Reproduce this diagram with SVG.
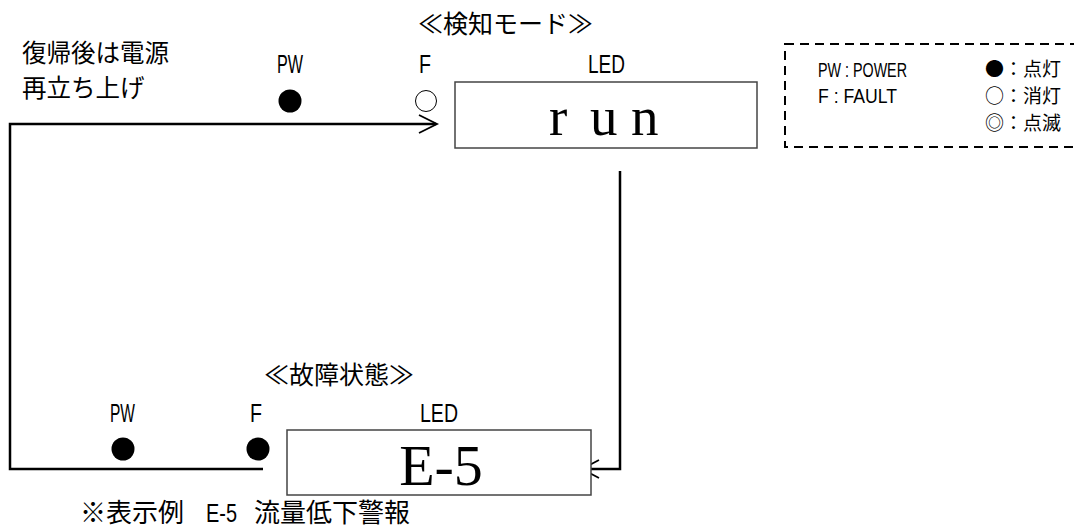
<svg xmlns="http://www.w3.org/2000/svg" width="1074" height="529" viewBox="0 0 1074 529">
<style>
.jp{font-family:"Noto Sans CJK JP","Noto Sans",sans-serif;fill:#000}
.lbl{font-family:"Liberation Sans",Arial,sans-serif;font-size:26px;fill:#000}
.leg{font-family:"Liberation Sans",Arial,sans-serif;font-size:20px;fill:#000}
.big{font-family:"Liberation Serif","Times New Roman",serif;fill:#000}
.box{fill:#fff;stroke:#444;stroke-width:1.5}
.con{fill:none;stroke:#000;stroke-width:2.5}
.head{fill:none;stroke:#000;stroke-width:1.8}
</style>
<rect width="1074" height="529" fill="#fff"/>
<g id="connectors">
<polyline class="con" points="263,469 10,469 10,124 436,124"/>
<polyline class="head" points="419,115 437,124 419,133"/>
<polyline class="con" points="620,171 620,469 584,469"/>
<polyline class="head" points="599,460 582,469 599,478"/>
</g>
<g id="note-restart">
<text class="jp" font-size="24.5"><tspan x="22" y="62">復帰後は電源</tspan><tspan x="22" y="97">再立ち上げ</tspan></text>
</g>
<g id="detect-mode">
<text class="jp" x="418" y="33" font-size="25">≪検知モード≫</text>
<text class="lbl" x="277" y="73" textLength="26" lengthAdjust="spacingAndGlyphs">PW</text>
<text class="lbl" x="419" y="73" textLength="12" lengthAdjust="spacingAndGlyphs">F</text>
<text class="lbl" x="588" y="73" textLength="37" lengthAdjust="spacingAndGlyphs">LED</text>
<circle cx="290" cy="101" r="11.5" fill="#000"/>
<circle cx="426" cy="101" r="10.5" fill="#fff" stroke="#000" stroke-width="1"/>
<rect class="box" x="455" y="82" width="302" height="66"/>
<text class="big" y="135" font-size="55"><tspan x="549">r</tspan><tspan x="590">u</tspan><tspan x="631">n</tspan></text>
</g>
<g id="fault-state">
<text class="jp" x="264" y="384" font-size="25">≪故障状態≫</text>
<text class="lbl" x="110" y="422" textLength="25" lengthAdjust="spacingAndGlyphs">PW</text>
<text class="lbl" x="250" y="422" textLength="12" lengthAdjust="spacingAndGlyphs">F</text>
<text class="lbl" x="420" y="422" textLength="38" lengthAdjust="spacingAndGlyphs">LED</text>
<circle cx="123" cy="449" r="11.5" fill="#000"/>
<circle cx="258" cy="449" r="11.5" fill="#000"/>
<rect class="box" x="287" y="430" width="304" height="65"/>
<text class="big" x="441" y="485" font-size="58" text-anchor="middle">E-5</text>
</g>
<g id="footnote">
<text class="jp" x="80" y="522" font-size="26">※表示例</text>
<text class="lbl" x="206" y="522" textLength="31" lengthAdjust="spacingAndGlyphs">E-5</text>
<text class="jp" x="254" y="522" font-size="26">流量低下警報</text>
</g>
<g id="legend">
<rect x="785" y="44" width="310" height="103" fill="none" stroke="#000" stroke-width="2" stroke-dasharray="9,6"/>
<text class="leg" x="818" y="77" textLength="89" lengthAdjust="spacingAndGlyphs">PW : POWER</text>
<text class="leg" x="818" y="103" textLength="79" lengthAdjust="spacingAndGlyphs">F : FAULT</text>
<text class="jp" x="985" y="76" font-size="19">●：点灯</text>
<text class="jp" x="985" y="103" font-size="19">○：消灯</text>
<text class="jp" x="985" y="130" font-size="19">◎：点滅</text>
</g>
</svg>
